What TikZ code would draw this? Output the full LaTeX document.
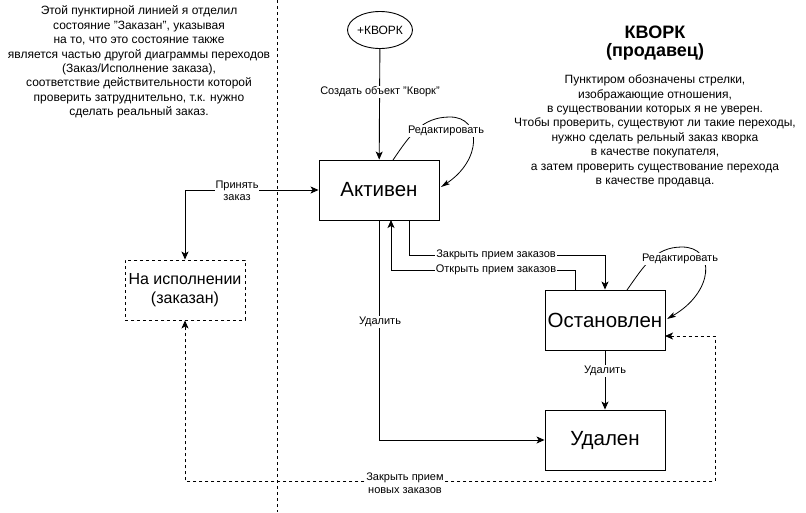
\documentclass[tikz,border=0pt]{standalone}
\usepackage{fontspec}
\setmainfont{Liberation Sans}
\usetikzlibrary{arrows.meta,shapes.geometric}
\begin{document}
\begin{tikzpicture}[x=1pt,y=-1pt, line width=0.9pt,
  state/.style={draw, minimum width=120pt, minimum height=60pt, inner sep=0pt, font=\fontsize{20.5}{24}\selectfont},
  lbl/.style={fill=white, inner sep=1pt, align=center, font=\fontsize{11}{12.5}\selectfont},
  note/.style={align=center, inner sep=0pt, font=\fontsize{12}{14.4}\selectfont},
  arr/.style={-{Stealth[length=8pt,width=7pt,inset=2pt]}},
  arrboth/.style={{Stealth[length=8pt,width=7pt,inset=2pt]}-{Stealth[length=8pt,width=7pt,inset=2pt]}},
  looparr/.style={line width=0.8pt, -{Stealth[length=9pt,width=5pt,inset=2pt]}},
  dsh/.style={dash pattern=on 3pt off 3pt}
]
\fill[white] (0,0) rectangle (806,512);
\useasboundingbox (0,0) rectangle (806,512);

% separator
\coordinate (septop) at (277,0);
\coordinate (sepbot) at (277,512);
\draw[dsh] (septop) -- (sepbot);

% notes
\node[note] (note1) at (139,62) {Этой пунктирной линией я отделил\\состояние "Заказан", указывая\\на то, что это состояние также\\является частью другой диаграммы переходов\\(Заказ/Исполнение заказа),\\соответствие действительности которой\\проверить затруднительно, т.к. нужно\\сделать реальный заказ.};
\node[align=center, inner sep=0pt, font=\fontsize{18}{18}\selectfont\bfseries] (title) at (655,43) {КВОРК\\(продавец)};
\node[note] (note2) at (655,131) {Пунктиром обозначены стрелки,\\изображающие отношения,\\в существовании которых я не уверен.\\Чтобы проверить, существуют ли такие переходы,\\нужно сделать рельный заказ кворка\\в качестве покупателя,\\а затем проверить существование перехода\\в качестве продавца.};

% states
\node[draw, ellipse, minimum width=60pt, minimum height=37pt, inner sep=0pt, font=\fontsize{12}{14}\selectfont] (start) at (380,30) {+КВОРК};
\node[state] (akt) at (379,190) {Активен};
\node[state, dsh, align=center, font=\fontsize{16}{19}\selectfont] (nah) at (185,290) {На исполнении\\(заказан)};
\node[state] (ost) at (605,320) {Остановлен};
\node[state] (ud) at (605,440) {Удален};

% create
\draw[arr] (start) -- (akt);
\node[lbl] (lcreate) at (380,92) {Создать объект "Кворк"};

% accept
\coordinate (accA) at (185,190);
\draw[arrboth] (akt.west) -- (accA) -- (nah.north);
\node[lbl] (lacc) at (237,191) {Принять\\заказ};

% close orders
\coordinate (clA) at (409,220);
\coordinate (clB) at (409,255);
\coordinate (clC) at (605,255);
\draw[arr] (clA) -- (clB) -- (clC) -- (ost.north);
\node[lbl] (lcl) at (496,255) {Закрыть прием заказов};

% open orders
\coordinate (opA) at (575,290);
\coordinate (opB) at (575,270);
\coordinate (opC) at (391,270);
\coordinate (opD) at (391,220);
\draw[arr] (opA) -- (opB) -- (opC) -- (opD);
\node[lbl] (lop) at (496,270) {Открыть прием заказов};

% delete from active
\coordinate (delA) at (379,220);
\coordinate (delB) at (379,440);
\draw[arr] (delA) -- (delB) -- (ud.west);
\node[lbl] (ldel1) at (380,322) {Удалить};

% delete from stopped
\draw[arr] (ost.south) -- (ud.north);
\node[lbl] (ldel2) at (605,371) {Удалить};

% dashed close new orders
\coordinate (dA) at (665,336);
\coordinate (dB) at (715,336);
\coordinate (dC) at (715,481);
\coordinate (dD) at (185,481);
\draw[arrboth, dsh] (dA) -- (dB) -- (dC) -- (dD) -- (nah.south);
\node[lbl] (ldash) at (405,483) {Закрыть прием\\новых заказов};

% self loops
\coordinate (l1s) at (393,160);
\coordinate (l1t) at (450,117);
\coordinate (l1e) at (441,187);
\draw[looparr] (l1s) .. controls (410,135) and (422,117) .. (l1t) .. controls (482,117) and (482,160) .. (l1e);
\node[lbl] (led1) at (446,131) {Редактировать};

\coordinate (l2s) at (627,290);
\coordinate (l2t) at (682,247);
\coordinate (l2e) at (667,319);
\draw[looparr] (l2s) .. controls (644,266) and (655,247) .. (l2t) .. controls (716,247) and (714,292) .. (l2e);
\node[lbl] (led2) at (680,259) {Редактировать};
\end{tikzpicture}
\end{document}
